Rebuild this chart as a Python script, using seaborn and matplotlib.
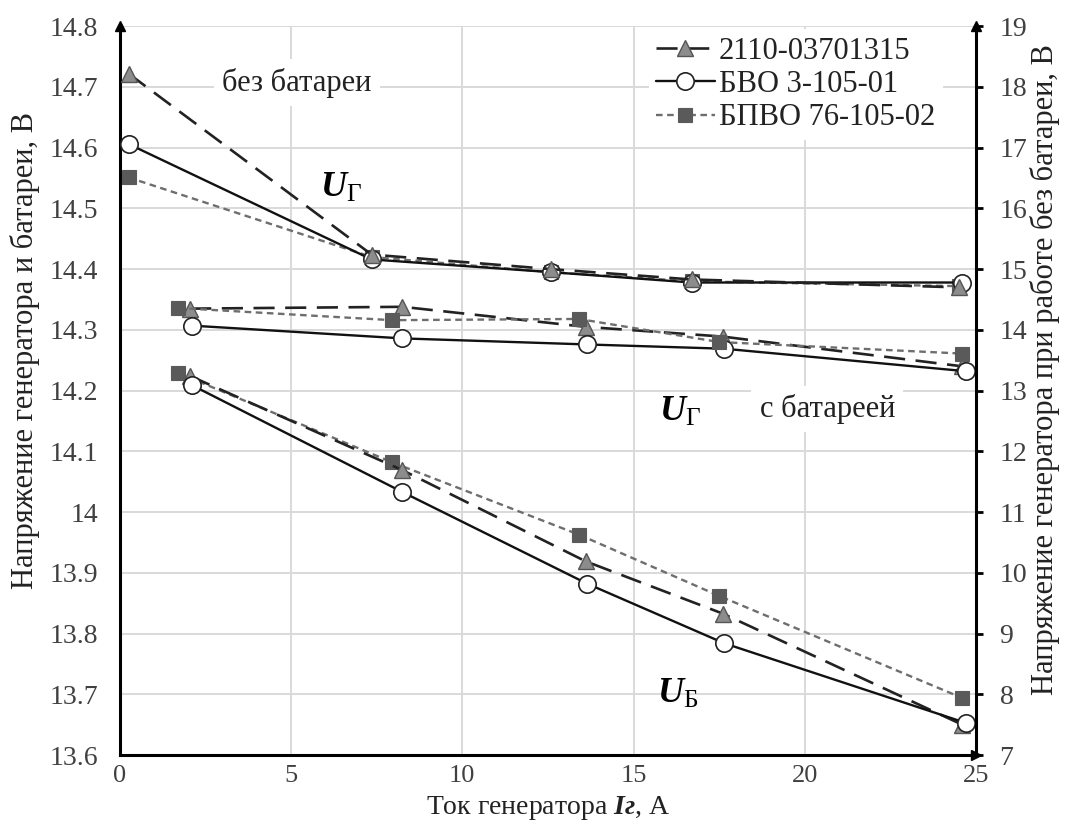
import matplotlib
matplotlib.use("Agg")
import matplotlib.pyplot as plt
import seaborn as sns
import pandas as pd

# ---- data ----
series_names = ["2110-03701315", "БВО 3-105-01", "БПВО 76-105-02"]

# without battery (right axis, V)
x_nobat_tri = [0.25, 7.35, 12.6, 16.7, 24.5]
y_nobat_tri = [18.22, 15.24, 15.0, 14.83, 14.7]
x_nobat_circ = [0.25, 7.35, 12.6, 16.7, 24.6]
y_nobat_circ = [17.06, 15.16, 14.95, 14.78, 14.78]
x_nobat_sq = [0.25, 7.35, 12.6, 16.7, 24.5]
y_nobat_sq = [16.51, 15.2, 14.95, 14.8, 14.72]

# with battery, generator voltage U_G (left axis, V)
x_bat_tri = [2.05, 8.25, 13.6, 17.6, 24.6]
y_gen_tri = [14.335, 14.338, 14.305, 14.289, 14.24]
x_bat_circ = [2.1, 8.25, 13.65, 17.65, 24.7]
y_gen_circ = [14.307, 14.286, 14.276, 14.269, 14.232]
x_bat_sq = [1.7, 7.95, 13.4, 17.5, 24.6]
y_gen_sq = [14.336, 14.316, 14.318, 14.28, 14.261]

# battery voltage U_B (left axis, V)
y_bat_tri = [14.224, 14.069, 13.919, 13.833, 13.65]
y_bat_circ = [14.209, 14.033, 13.882, 13.784, 13.653]
y_bat_sq = [14.229, 14.082, 13.963, 13.862, 13.694]

x_ticks = [0, 5, 10, 15, 20, 25]
left_ticks = [13.6, 13.7, 13.8, 13.9, 14.0, 14.1, 14.2, 14.3, 14.4, 14.5, 14.6, 14.7, 14.8]
left_tick_labels = ["13.6", "13.7", "13.8", "13.9", "14", "14.1", "14.2", "14.3", "14.4", "14.5", "14.6", "14.7", "14.8"]
right_ticks = list(range(7, 20))

# ---- style ----
sns.set_theme(style="white")
plt.rcParams["font.family"] = ["Liberation Serif", "DejaVu Serif"]
plt.rcParams["mathtext.fontset"] = "custom"
plt.rcParams["mathtext.rm"] = "Liberation Serif"
plt.rcParams["mathtext.it"] = "Liberation Serif:italic"
plt.rcParams["mathtext.bf"] = "Liberation Serif:bold"
plt.rcParams["mathtext.bfit"] = "Liberation Serif:bold:italic"

styles = {
    "2110-03701315": dict(color="#222222", linestyle=(0, (8, 4)), linewidth=1.9,
                          marker="^", markersize=12, markerfacecolor="#8c8c8c",
                          markeredgecolor="#555555", markeredgewidth=1.0),
    "БВО 3-105-01": dict(color="#111111", linestyle="-", linewidth=1.7,
                         marker="o", markersize=12.5, markerfacecolor="white",
                         markeredgecolor="#222222", markeredgewidth=1.2),
    "БПВО 76-105-02": dict(color="#6e6e6e", linestyle=(0, (2.8, 1.9)), linewidth=1.7,
                           marker="s", markersize=9.5, markerfacecolor="#5a5a5a",
                           markeredgecolor="#5a5a5a", markeredgewidth=0.8),
}

fig = plt.figure(figsize=(10.78, 8.32), dpi=100)
ax = fig.add_axes([0.1113, 0.0925, 0.794, 0.876])
ax2 = ax.twinx()

def draw(axis, xs, ys, name, label=None):
    df = pd.DataFrame({"x": xs, "y": ys})
    sns.lineplot(data=df, x="x", y="y", ax=axis, sort=False, label=label,
                 legend=False, **styles[name])

# with-battery groups on left axis
draw(ax, x_bat_tri, y_gen_tri, series_names[0], series_names[0])
draw(ax, x_bat_circ, y_gen_circ, series_names[1], series_names[1])
draw(ax, x_bat_sq, y_gen_sq, series_names[2], series_names[2])
draw(ax, x_bat_sq, y_bat_sq, series_names[2])
draw(ax, x_bat_tri, y_bat_tri, series_names[0])
draw(ax, x_bat_circ, y_bat_circ, series_names[1])

# no-battery group on right axis
draw(ax2, x_nobat_sq, y_nobat_sq, series_names[2])
draw(ax2, x_nobat_circ, y_nobat_circ, series_names[1])
draw(ax2, x_nobat_tri, y_nobat_tri, series_names[0])

# axes limits and ticks
ax.set_xlim(0, 25)
ax.set_ylim(13.6, 14.8)
ax2.set_ylim(7, 19)
ax.set_xticks(x_ticks)
ax.set_yticks(left_ticks)
ax.set_yticklabels(left_tick_labels)
ax2.set_yticks(right_ticks)

ax.grid(True, color="#d9d9d9", linewidth=1.4)
ax.set_axisbelow(True)
ax2.grid(False)

ax.spines["top"].set_visible(False)
ax2.spines["top"].set_visible(False)
ax.spines["right"].set_visible(False)
ax2.spines["left"].set_visible(False)
ax2.spines["bottom"].set_visible(False)
for sp in [ax.spines["left"], ax.spines["bottom"], ax2.spines["right"]]:
    sp.set_color("black")
    sp.set_linewidth(2.2)

ax.tick_params(axis="both", which="both", length=0, labelsize=20, colors="#404040")
ax.tick_params(axis="y", pad=16)
ax.tick_params(axis="x", pad=7, labelsize=19)
ax2.tick_params(axis="y", length=5, width=2, color="black", direction="out",
                labelsize=20, labelcolor="#404040", pad=12)

# axis arrows
ax.plot([0], [1], marker="^", color="black", markersize=7, transform=ax.transAxes, clip_on=False)
ax.plot([1], [0], marker=">", color="black", markersize=7, transform=ax.transAxes, clip_on=False)
ax2.plot([1], [1], marker="^", color="black", markersize=7, transform=ax2.transAxes, clip_on=False)

ax.set_xlabel(r"Ток генератора $\mathbfit{Iг}$, А", fontsize=20, color="#222222")
ax.set_ylabel("Напряжение генератора и батареи, В", fontsize=22, color="#222222")
ax2.set_ylabel("Напряжение генератора при работе без батареи, В", fontsize=22,
               color="#222222")
ax.xaxis.set_label_coords(0.5, -0.053)
ax.yaxis.set_label_coords(-0.093, 0.555)
ax2.yaxis.set_label_coords(1.063, 0.529)

# annotations
ax.text(5.17, 14.707, "без батареи", fontsize=22, ha="center", va="center", color="#222222",
        bbox=dict(facecolor="white", edgecolor="none", pad=6))
ax.text(20.66, 14.17, "с батареей", fontsize=22, ha="center", va="center", color="#222222",
        bbox=dict(facecolor="white", edgecolor="none", pad=6))
ax.text(6.45, 14.533, r"$\mathbfit{U}_{\mathrm{Г}}$", fontsize=26, ha="center", va="center", color="black")
ax.text(16.35, 14.165, r"$\mathbfit{U}_{\mathrm{Г}}$", fontsize=26, ha="center", va="center", color="black")
ax.text(16.3, 13.70, r"$\mathbfit{U}_{\mathrm{Б}}$", fontsize=26, ha="center", va="center", color="black")

leg = ax.legend(loc="upper left", bbox_to_anchor=(0.6, 1.017), fontsize=22, frameon=True,
                framealpha=1, edgecolor="none", facecolor="white", handlelength=1.9,
                handletextpad=0.15, labelspacing=0.14, borderpad=0.25)
for t in leg.get_texts():
    t.set_color("#222222")

fig.savefig("out.png", dpi=100)
